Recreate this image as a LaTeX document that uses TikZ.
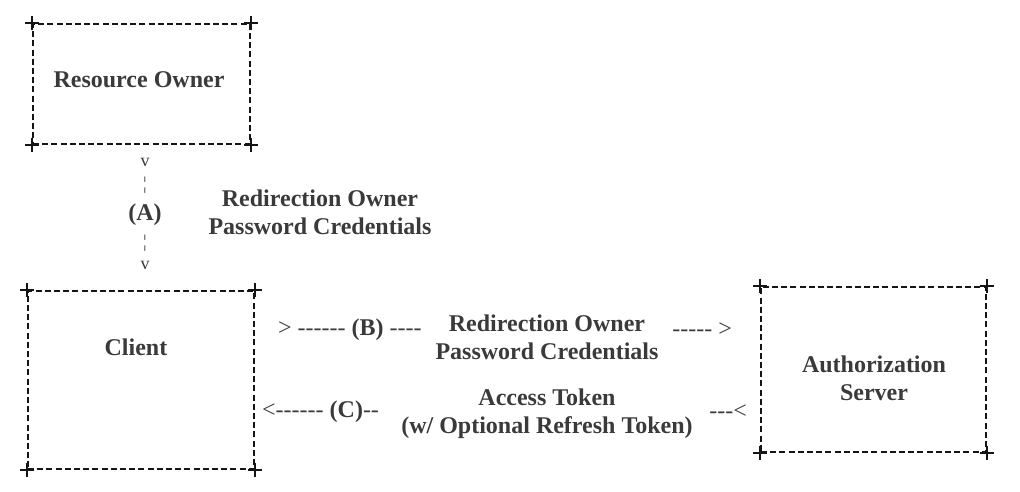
\documentclass[tikz,border=0pt]{standalone}
\usepackage{fontspec}
\setmainfont{Liberation Serif}
\usepackage{tikz}
\definecolor{ink}{HTML}{3A3A3A}
\definecolor{edge}{HTML}{151515}
% plain hyphen, no -- ligature
\newcommand\hy{-\kern0pt}

\begin{document}
\begin{tikzpicture}[x=1pt, y=-1pt,
    box/.style={draw=edge, line width=1.7pt, dash pattern=on 6pt off 3.2pt, inner sep=0pt},
    corner/.style={draw=edge, line width=2.4pt},
    lbl/.style={text=ink, font=\fontsize{24}{28}\selectfont\bfseries, align=center, inner sep=0pt},
    ascii/.style={text=ink, font=\fontsize{24}{28}\selectfont, inner sep=0pt},
    tick/.style={text=ink, font=\fontsize{18}{18}\selectfont, inner sep=0pt}]
  \useasboundingbox (0,0) rectangle (1020,492);

  % boxes
  \node[box, minimum width=217pt, minimum height=120pt] (owner) at (141.5,84) {};
  \node[box, minimum width=226pt, minimum height=178pt] (client) at (141,380) {};
  \node[box, minimum width=225pt, minimum height=165pt] (server) at (873.5,369.5) {};
  \foreach \b in {owner, client, server}
    \foreach \c in {north west, north east, south west, south east}
      \draw[corner] (\b.\c) +(-7,0) -- +(7,0) +(0,-7) -- +(0,7);

  \node[lbl] (ownerlbl) at (139,80) {Resource Owner};
  \node[lbl] (clientlbl) at (136,347) {Client};
  \node[lbl] (serverlbl) at (874,378) {Authorization\\Server};

  % (A)
  \node[tick] (av1) at (145,162) {v};
  \node[tick] (ab1) at (145,185) {¦};
  \node[lbl] (a) at (145,215) {(A)};
  \node[tick] (ab2) at (145,243) {¦};
  \node[tick] (av2) at (145,265) {v};
  \node[lbl] (alabel) at (320,212.5) {Redirection Owner\\Password Credentials};

  % (B)
  \node[ascii, anchor=west] (bleft) at (278,330) {>\ \hy\hy\hy\hy\hy\hy\ \textbf{(B)}\ \hy\hy\hy\hy};
  \node[lbl] (blabel) at (547,337.5) {Redirection Owner\\Password Credentials};
  \node[ascii, anchor=east] (bright) at (732,330) {\hy\hy\hy\hy\hy\ >};

  % (C)
  \node[ascii, anchor=west] (cleft) at (262,412) {<\hy\hy\hy\hy\hy\hy\ \textbf{(C)}\hy\hy};
  \node[lbl] (clabel) at (547,414) {Access Token\\(w/ Optional Refresh Token)};
  \node[ascii, anchor=east] (cright) at (747,412) {\hy\hy\hy<};
\end{tikzpicture}
\end{document}
